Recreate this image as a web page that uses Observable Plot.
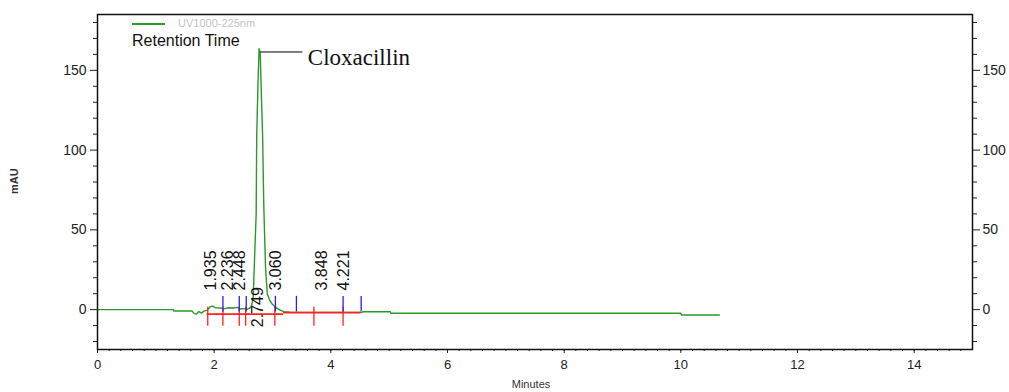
<!DOCTYPE html>
<html><head><meta charset="utf-8">
<script src="https://cdn.jsdelivr.net/npm/d3@7"></script>
<script src="https://cdn.jsdelivr.net/npm/@observablehq/plot@0.6"></script>
<style>
html,body{margin:0;padding:0;background:#fff;}
#wrap{position:relative;width:1009px;height:392px;}
#wrap svg{display:block;}
.leg{position:absolute;font-family:"Liberation Sans",Arial,sans-serif;white-space:nowrap;}
.legline{position:absolute;left:132px;top:23px;width:33px;height:2px;background:#2a9a2a;}
.legtext{left:178px;top:17px;font-size:11px;color:#c4c4c4;}
.rt{left:132px;top:32px;font-size:16px;color:#111;}
</style></head><body><div id="wrap"></div>
<script>
// Chromatogram trace (minutes, mAU)
const times = [0, 1.30, 1.31, 1.62, 1.66, 1.70, 1.74, 1.78, 1.83, 1.88, 1.93, 1.97, 2.02, 2.10, 2.18, 2.25, 2.33, 2.40, 2.45, 2.50, 2.56, 2.60, 2.64, 2.67, 2.70, 2.72, 2.73, 2.75, 2.77, 2.79, 2.81, 2.83, 2.85, 2.88, 2.91, 2.95, 2.99, 3.04, 3.08, 3.14, 3.20, 3.30, 4.54, 4.55, 5.02, 5.03, 10.00, 10.01, 10.66];
const absorbance = [0, 0, -0.9, -0.9, -2.5, -2.8, -1.2, -2.2, -0.8, -0.5, 1.8, 2.2, 1.2, 1.0, 0.6, 1.2, 1.0, 1.4, 0.4, 0.6, 0.2, 0.8, 2.0, 8, 40, 60, 110, 140, 163.6, 160, 134, 110, 66, 27, 10, 6, 3.7, 2, 0.8, -0.5, -1.3, -1.6, -1.7, -1.3, -1.3, -2.3, -2.3, -3.4, -3.4];

// Integration baseline segments
const baseStart = [1.88, 3.19];
const baseEnd = [3.19, 4.52];
const baseLevel = [-2.8, -1.9];

// Peak markers
const redTicks = [1.89, 2.15, 2.43, 2.54, 3.04, 3.71, 4.21];
const blueTicks = [2.15, 2.43, 2.55, 3.05, 3.41, 4.21, 4.52];

// Retention time labels
const rtLabels = ["1.935", "2.236", "2.448", "2.749", "3.060", "3.848", "4.221"];
const rtBelow = [false, false, false, true, false, false, false];

// Peak annotation
const peakName = "Cloxacillin";
const peakTime = 2.79;
const peakLevel = 161.5;
const leaderEnd = 3.52;

const xMajor = [0, 2, 4, 6, 8, 10, 12, 14];
const xMinor = d3.range(0, 75).map(i => i / 5);
const yMajor = [0, 50, 100, 150];
const yMinor = [-20, -10, 10, 20, 30, 40, 60, 70, 80, 90, 110, 120, 130, 140, 160, 170, 180];

const trace = times.map((t, i) => ({t, v: absorbance[i]}));
const segs = baseStart.map((s, i) => ({x1: s, x2: baseEnd[i], y: baseLevel[i]}));
const labels = rtLabels.map((s, i) => ({t: +s, s, below: rtBelow[i]}));

const green = "#2a9a2a";
const font = "'Liberation Sans', Arial, sans-serif";

const chart = Plot.plot({
  width: 1009,
  height: 392,
  marginLeft: 97,
  marginRight: 37,
  marginTop: 14,
  marginBottom: 43,
  x: {domain: [0, 15]},
  y: {domain: [-25, 185]},
  style: {fontFamily: font, fontSize: "13px", color: "#222", background: "#fff"},
  marks: [
    Plot.axisY({anchor: "left", ticks: yMinor, tickSize: 4, tickFormat: () => "", label: null}),
    Plot.axisY({anchor: "left", ticks: yMajor, tickSize: 7, tickPadding: 4, label: null, fontSize: 14}),
    Plot.axisY({anchor: "right", ticks: yMinor, tickSize: 4, tickFormat: () => "", label: null}),
    Plot.axisY({anchor: "right", ticks: yMajor, tickSize: 7, tickPadding: 3, label: null, fontSize: 14}),
    Plot.axisX({anchor: "bottom", ticks: xMinor, tickSize: 2, tickFormat: () => "", label: null}),
    Plot.axisX({anchor: "bottom", ticks: xMajor, tickSize: 4, tickPadding: 6, label: null, fontSize: 13}),
    Plot.text(["mAU"], {frameAnchor: "left", dx: -83, dy: 12, rotate: -90, fontSize: 11, fontWeight: "bold", fill: "#333"}),
    Plot.text(["Minutes"], {frameAnchor: "bottom", dy: 38, dx: -4, fontSize: 11, fill: "#333"}),
    Plot.line(trace, {x: "t", y: "v", stroke: green, strokeWidth: 1.4}),
    Plot.ruleY(segs, {x1: "x1", x2: "x2", y: "y", stroke: "#ff2020", strokeWidth: 1.6}),
    Plot.ruleX(redTicks, {x: d => d, y1: -10.5, y2: 1.5, stroke: "#ff2020", strokeWidth: 1.3}),
    Plot.ruleX(blueTicks, {x: d => d, y1: -1.5, y2: 8.3, stroke: "#2020ff", strokeWidth: 1.3}),
    Plot.text(labels.filter(d => !d.below), {x: "t", y: 12, text: "s", rotate: -90, textAnchor: "start", lineAnchor: "middle", fontSize: 16, fill: "#111"}),
    Plot.text(labels.filter(d => d.below), {x: "t", y: -11, text: "s", rotate: -90, textAnchor: "start", lineAnchor: "middle", fontSize: 16, fill: "#111"}),
    Plot.ruleY([peakLevel], {x1: peakTime, x2: leaderEnd, stroke: "#000", strokeWidth: 1}),
    Plot.text([peakName], {x: leaderEnd, y: peakLevel, dx: 5, dy: 6, textAnchor: "start", lineAnchor: "middle", fontFamily: "'Liberation Serif', 'Times New Roman', serif", fontSize: 23, fill: "#111"}),
    Plot.frame({stroke: "#111", strokeWidth: 1.5})
  ]
});
const wrap = document.getElementById("wrap");
wrap.appendChild(chart);
wrap.insertAdjacentHTML("beforeend",
  '<div class="legline"></div><div class="leg legtext">UV1000-225nm</div><div class="leg rt">Retention Time</div>');
</script>
</body></html>
